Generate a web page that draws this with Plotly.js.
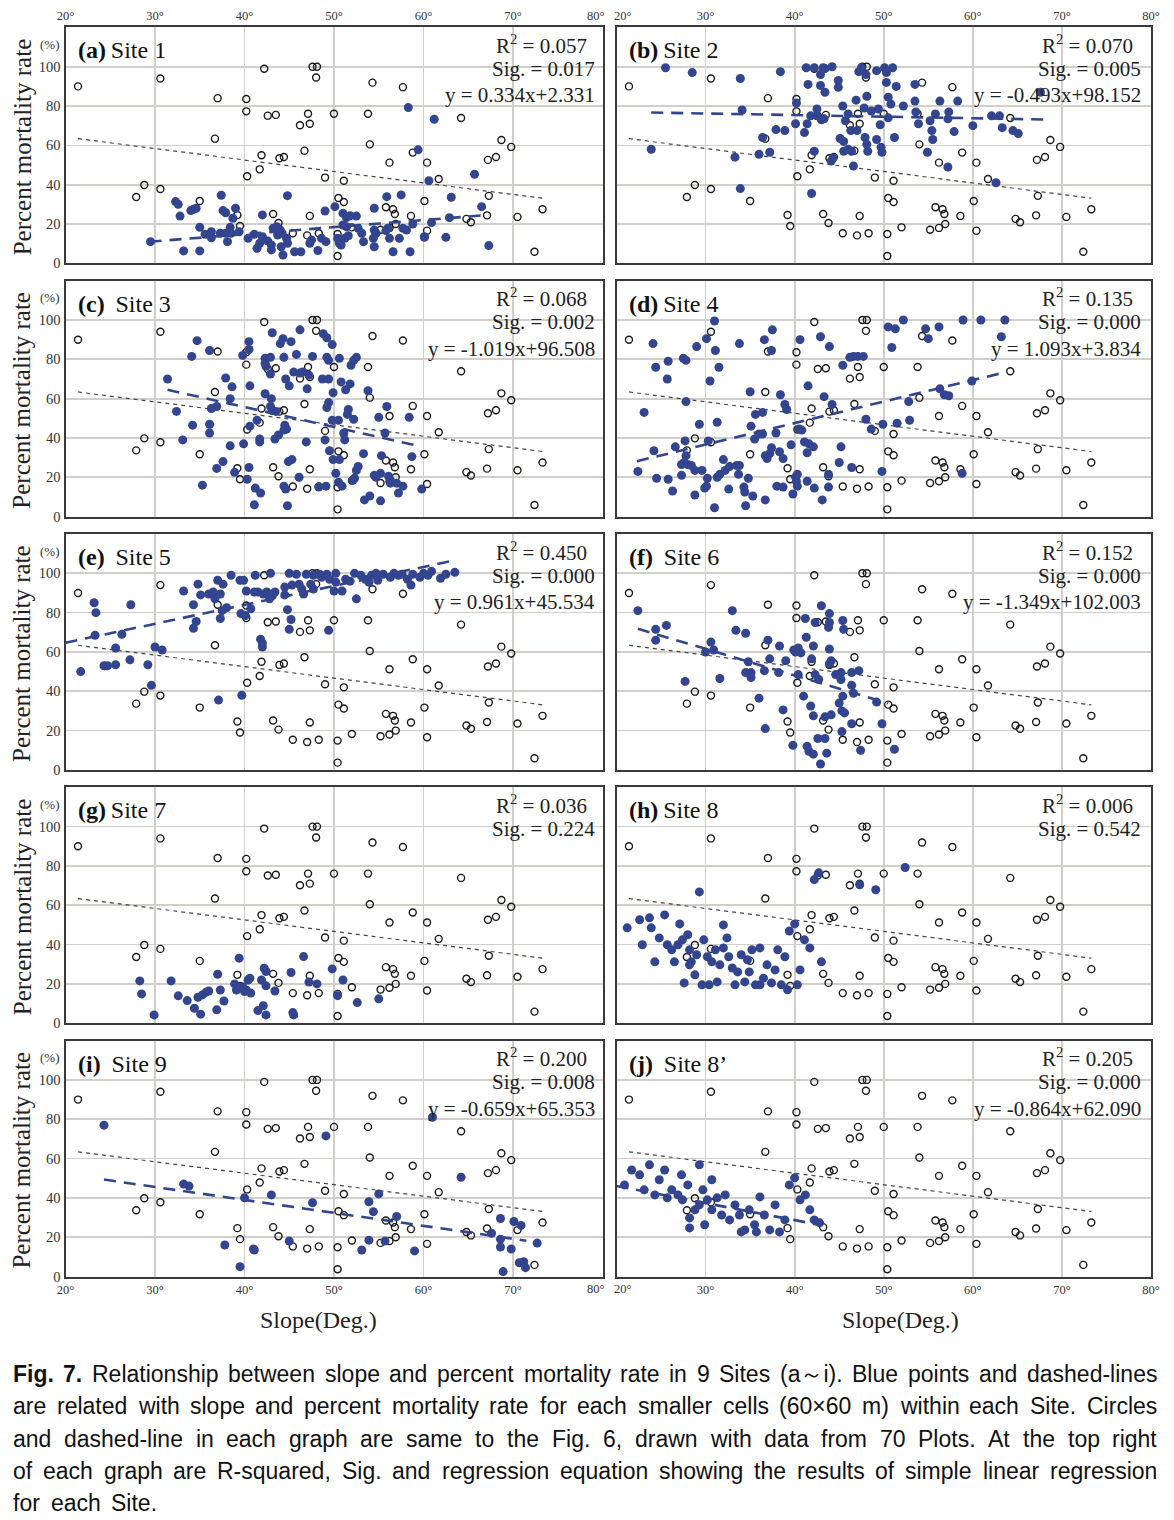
<!DOCTYPE html>
<html><head><meta charset="utf-8">
<script src="https://cdn.plot.ly/plotly-3.0.1.min.js"></script>
<style>html,body{margin:0;padding:0;background:#fff}#chart{width:1174px;height:1520px}</style>
</head><body><div id="chart"></div>
<script>
// ---------- DATA ----------
// 70 plots (same circles + dashed line in every panel, from Fig. 6)
const plotSlope=[21.4,30.6,37.0,40.2,40.2,36.7,40.3,28.8,30.6,27.9,35.0,39.2,39.5,42.2,47.6,48.1,48.0,54.3,57.7,42.6,43.5,47.1,50.0,53.8,46.2,47.3,54.0,58.8,56.2,60.4,41.9,43.9,44.4,46.7,41.7,49.0,51.1,50.5,51.1,43.2,47.3,43.8,45.4,47.0,48.3,50.4,50.4,52.0,55.8,56.6,56.8,58.6,56.9,56.2,55.2,60.1,60.4,64.2,68.7,69.8,67.2,68.1,61.7,67.3,64.8,65.3,67.1,70.5,73.3,72.4];
const plotMort=[90,94,84,83.6,77.3,63.4,44.3,39.8,37.8,33.7,31.7,24.6,19,99,100,100,94.5,91.9,89.6,75.1,75.5,76.1,76.1,76.1,70.2,71,60.5,56.3,51.2,51.2,55,53.4,54.1,57.3,47.8,43.6,42,33.2,31.2,25.1,24.1,20.5,15.3,14.2,15.3,14.9,3.7,18.3,28.5,27.5,25.1,24.1,20,18,17.1,31.7,16.6,73.9,62.7,59.2,52.6,54.1,42.9,34.3,22.6,20.9,24.4,23.6,27.5,5.9];
const plotLineSlope=[21.4,73.3];
const plotLineMort=[63.4,33.1];

const site1Slope=[29.5,32.3,32.6,32.8,34,34.3,34.6,33.2,35,37.4,37.6,37.9,38.7,39,35,35.6,36.3,36.3,37.3,37.9,38.1,38.4,38.5,39.4,40.4,44.8,42,41.1,41.7,41.4,42,42.6,43,43,43.2,43.6,44,44.2,43.7,44.1,44.3,44.7,44.8,45.6,46.3,47.3,47.5,48.2,49,48.6,49.1,50.1,50.4,50.6,50.8,51,51.4,51.8,52.5,51.2,51.6,51,51.4,52.7,53.1,53.3,54.5,54.5,54.7,54.4,54.5,55.9,55.8,56,56.2,56.6,57.5,57.7,58.1,57.3,58.5,58.8,58.3,59.4,60.1,60.6,61.2,65.7,63.1,66.5,60.9,62.9,60.1,62.5,67.3];
const site1Mort=[11,31.4,30,24,26.8,27.5,28,6.3,6.3,34.6,26.8,25.7,22.9,28,18.3,14.8,16.1,13,15.3,15.3,11,18.3,15.3,16.1,12.7,34.4,24.6,14.8,10.2,7.6,13.5,11.3,9.3,6.8,17.8,18.6,16.9,15.3,14.4,8.4,4.2,12.7,10.2,5.9,5.9,10.2,11.9,6.5,26.6,12.7,11,28.8,12.7,10.2,9.3,25.4,23.2,24.2,24,12.7,14,19.5,18.6,17.8,15.3,11,28,16.9,15.3,12.7,8.4,33.9,16.6,17.8,12.7,5.9,34.8,17.8,16.9,12.7,5.9,20,79.2,57.7,13.5,42,73.3,45.3,33.6,28.8,20.7,23.2,13.2,13.2,9];

const site2Slope=[25.5,28.5,33.9,38.4,23.9,33.3,33.9,34.1,36,36.4,37.2,37.9,38.9,40.2,40.1,41.1,41.3,41.5,42.2,41.9,42.2,42.5,42.5,41.8,41.4,43,43.3,42.9,43.2,43.4,44.2,42.9,43.4,44.1,44.3,44.9,44.9,45.4,45.5,45.1,45.5,45.7,46,46,46.4,46.6,46.3,46.9,47,47.2,47.5,48,47.8,47.9,48.1,48.1,48.2,48.6,49.2,49.4,49.2,49.6,49.7,49.8,50.1,50.3,50.3,50.5,50.5,50.8,51,51.2,51.4,52.2,53.5,53.5,53.6,53.9,54.9,55.2,55.4,55.5,55.8,56.3,57.2,57.3,57.2,57.9,58.3,60,62.1,63,62.6,63.3,64.5,65.1,67.6];
const site2Mort=[99.5,97,94,97.5,58,54,38,78,55.5,64,56.5,68,67.5,81.5,71,66.5,99.5,91,99.5,35.5,57,78.5,75,75,71,73,73.5,96,99.5,99,100,90.5,87,52,53.5,93,89.5,80,62,63.5,57,72.5,76,58,57,49.5,67.5,83,67.5,97.5,99.5,96,79,64,85,60.5,57,77.5,98,78.5,63,70.5,59,56.5,99.5,97,92,84.5,74,81,99.5,64,90,80,91,82.5,77,71,56.5,72.5,67.5,63,76,82.5,49,77,73.5,67,82.5,70,75,75,41,69,67.5,66,87];

const site3Slope=[34.7,34.1,36.1,31.4,32.4,34.2,33.1,36.1,36.1,36.3,36.9,37.9,38.6,38.4,38.4,37.6,36.9,35.3,38.9,39.9,39.8,40.5,40.5,40.6,40.6,41.4,41.7,41.7,40.5,40.3,41.2,41.8,41.1,42.3,42.4,42.3,42.9,42.9,43.1,42.3,43,42.9,43.1,43.5,43.4,43.8,44.4,44,44.3,45.2,44.6,45,44.5,44.7,44.4,44.9,45.3,46.1,44.4,44.6,44.8,46.2,45.8,45.5,46.5,46.2,47.2,47,46.9,47.6,48.3,49.1,48.7,49.4,48.8,49.2,49.8,49.2,49.4,49.9,49.4,49.2,49.8,50.5,49,49.5,49.9,50.6,50.2,50.5,50.9,51.1,51.2,50.6,50.8,51.8,51.3,51.9,52.2,52.5,51.6,51.5,52.2,52.7,52.5,52.3,52.1,53.3,53.8,53.4,54,55,55.3,54.5,54.7,55.2,55.2,55.9,55.7,56.1,56.3,56.3,57,57.2,57.7,58.4,58.7,59.8];
const site3Mort=[89.5,81.5,84.5,70,53.5,46.5,39,47,42.5,55,56,70.5,66,60,36,28,24.5,16,22.5,37,82,89,85,66.5,46,49,39.5,38,25,19,14.5,12,6,78,76.5,80.5,81,72.5,93.5,62.5,60,56,54,53.5,39.5,41.5,81,88,90.5,89,70,66.5,46.5,44.5,44,28,29,20,15.5,14,5.5,95,82.5,73.5,73.5,73,72,65,38,81.5,15,15.5,70,70,93,91,87.5,81,79.5,63,58,55.5,49,49,39,33.5,29,29,22,17.5,15.5,42.5,39,80.5,68.5,67.5,64.5,77,79.5,81,54.5,52,49.5,25.5,23.5,19.5,18.5,32,64,8.5,10.5,50.5,31,21,20,22,8,56,42.5,20.5,18.5,17,17,12,15.5,50.5,30.5,14];

const site4Slope=[22.4,24.1,24.4,24.2,23.1,24.5,25.8,25.7,25.8,26.3,26.6,27.3,27.3,27.5,27.8,27.8,27.7,27.8,27.6,28,28.4,28.8,28.8,29,29.3,29.6,30.1,30.3,30.5,31,31.1,31.5,31.3,30.2,30.1,29.9,31,31.3,31.6,32,32.2,32.7,32.6,33.5,33.8,33.8,33.7,34.8,34.3,34.4,34.5,35.3,35,35.1,35.5,35.6,36.4,36,36.4,36.7,36.6,37.5,37.4,36.7,36.9,37.2,37.4,37.9,38.4,38.9,39.1,38.3,38.7,38,38.7,39.6,40.1,40.3,40.2,40.3,39.8,40.5,40.8,40.6,41.1,41.6,42.1,41.4,41.5,41.4,42.2,43.1,43.3,42.9,43.9,44.2,43.8,43.8,45.2,45,45.4,46.2,46.4,46.6,47.1,47.7,48,48.6,49.9,49.8,50.5,51.3,50.9,52.2,51.5,52.9,52.8,54.7,55,56.2,56.3,56.8,57.3,58.9,58.8,59.9,60.9,63.6,63.2];
const site4Mort=[23,88,76,33.5,53,19.5,79,70,19,13,35.5,21,26.5,80.5,79.5,58.5,38.5,31,27.5,26.5,26,23.5,11,86.5,47,23.5,90.5,38.5,69,99.5,84.5,76,48,19.5,15.5,14.5,4.5,20,21.5,29,23.5,25.5,14,26,26,88,21.5,19.5,15,12.5,5.5,10.5,63.5,46,39.5,52,53,42,42,8.5,90,95,84.5,31,29.5,32,35,42.5,62,57,54.5,33,29.5,15.5,15,36.5,20,21.5,18,15.5,11.5,44.5,44,90,38,37,35.5,32.5,66.5,18,14.5,8.5,61,91.5,86.5,57,21.5,15,35.5,27.5,77,81,25,81.5,81.5,81.5,49.5,44.5,47,23,96.5,95.5,86,100,47.5,49,58.5,95.5,90.5,96.5,65,62,61.5,100,22,69,100,100,91.5];

const site5Slope=[21.7,23.2,23.4,23.3,24.3,24.7,25.6,25.6,26.3,27.2,27.3,29.2,29.6,30,30.8,33.2,34.3,34.6,34.3,34.8,35.1,36,36.5,36.7,37,37.3,37.6,37.1,38,37.5,37.3,38.5,39.5,39.9,39.6,40.2,40.1,40.7,39.7,41.2,41.1,41.5,41.8,42,42,42.1,42.5,42.9,42.8,43.1,43.4,44.5,44.5,44.8,45,45.2,45,45.3,45.8,46.1,46.4,46.6,46.9,47.4,47.7,47.7,48.4,48.6,49.2,49.5,50,49.4,50.2,50.2,50.9,51.3,51.8,52.3,52.5,53,53.5,53.9,54.2,54.7,54.9,55.5,56.3,56.7,57.2,57.6,58.2,58.6,58.8,59.6,60,60.5,60.9,61.9,62.5,63.5];
const site5Mort=[50,85,80,68.5,53,53,53.5,62,69,56,84,53.5,43,62.5,61,91,84,75.5,72,94.5,89,89.5,90.5,87,96.5,89.5,94.5,35.5,82.5,81,77,99,96.5,96.5,79.5,91,78.5,82,38,99,90.5,90.5,66.5,64.5,62.5,89.5,90.5,100,87,88.5,90.5,93,89,81.5,71.5,76.5,100,94,99.5,94.5,92,89.5,99.5,94.5,92,99,99.5,98,99.5,97,91,71,100,95.5,91,97,96,100,87,99,97,95.5,99,100,96.5,99.5,98,100,99,99.5,97,94,99.5,98,100,99,101,97.5,99.5,100.5];

const site6Slope=[22.4,24.4,24.4,25.6,27.7,30,30.6,30.9,31.6,33,33.4,34.5,34.8,34.5,35.1,35.1,36,36.7,36.6,37,37.2,38.2,38.3,39,38.7,39.8,39.9,40.1,40.4,40.7,40.4,41,41.2,41.3,41.9,42.1,41.8,42.1,41.4,41.6,42.1,42.6,42.9,42.3,43,42.3,42.7,43.4,43.6,43.9,43.9,43.8,43.9,44.1,43.9,43.4,44.1,44.6,45.2,45.4,45.5,45.2,45.4,45,45.3,45.6,45.3,46.4,46.4,46.6,46.4,47.2,47.4,49.2,49.8,51.2];
const site6Mort=[81,71.5,66,73.5,45,60,65,61,46.5,81,71,69.5,55,49.5,49.5,47,36.5,21,50.5,66,56.5,49.5,63,55.5,30.5,12.5,61,60,62,59.5,48.5,37.5,77,67.5,56.5,63,32.5,27.5,12,9.5,8,16,3,75,83.5,48.5,46,16,8.5,79.5,75,72.5,61.5,55.5,54,27,28,48.5,49.5,76,71.5,46,37.5,34,30,29,19.5,49.5,43,39,23.5,50.5,10,34.5,23.5,10.5];

const site7Slope=[28.3,28.5,29.9,31.8,32.6,33.6,34.4,35.1,34.8,35.3,35.7,36,37,37.3,37.7,36.9,39.4,38.9,39.1,39.6,40,40.4,39.8,40.2,40.7,40.6,41.9,42.4,42.2,42.4,41.5,42.1,42.4,43.4,45.2,45.4,45.5,46.6,47.2,48.1,49.8,50.4,51,52.6,55];
const site7Mort=[21.5,14.9,4.2,21.5,13.9,11.5,7.6,4.6,13.2,14.4,15.8,16.4,24.9,16.9,11.3,6.8,33.1,20,16.9,18.1,16.1,22,18.6,16.9,15.3,22.9,22,19,28,26.3,6.4,8.9,4.2,16.4,25.8,5.4,4.2,33.9,20.9,20,27.6,14,22,10.5,12.4];

const site8Slope=[21.2,22.6,23.7,23.9,24.8,25.4,25.7,26.2,26.9,27.4,28,28.2,28.4,29,29.3,29.8,30.2,30.7,31.1,31.6,32,32.4,32.6,33,33.6,34,34.7,34.9,35.6,36.1,36.5,36.9,37.4,38.1,38.5,38.9,39.4,40,40.6,41.1,41.7,42.2,42.7,43,47.3,49.1,52.4,22.9,24.3,26.5,27.6,28.8,29.6,30.4,31.3,33.3,34.4,36.1,37.8,39.2,40.3,28.2,32,35.2,27.1];
const site8Mort=[48.5,52.6,53.6,48.5,43.4,55.1,39.9,37.3,39.9,42.4,45,37.3,31.2,34.8,66.8,42.4,33.8,31.2,37.3,29.7,50,43.4,33.8,28.1,26.1,34.8,32.3,26.1,19.5,38.3,22.9,29.7,20.5,37.3,19.5,33.8,46.9,50.5,27.1,42.4,38.3,73,76.5,31.2,70.4,67.9,79.2,39.9,31.2,31.2,20.5,24.6,19.5,19.5,21,19.5,21,19.5,27.1,17,19.5,29.7,38.3,37.3,50.5];

const site9Slope=[24.3,33.2,33.8,37.8,39.5,40,41,41.1,43,45,47.6,49.1,53.1,53.9,53.9,54.4,55,55.7,57,59,61,64.2,67.6,68.6,68.6,68.6,68.9,69.8,70.1,70.9,70.7,71.2,71.4,72.7];
const site9Mort=[77,47,46,16,5,40,14,13.5,41.5,18,37.5,71.5,13.5,18.5,38,33,42,18,30.5,13,81,50.5,22,29.5,19,15,2.5,14,28,26,7,7.5,4.5,17];

const site8bSlope=[20.9,21.7,22.6,23.1,23.7,24.3,24.8,25.4,25.7,26.2,26.9,27.4,28,28.2,28.8,29.3,29.7,30.2,30.7,31.3,31.8,32.2,32.7,33.3,33.8,34.4,34.9,35.5,36.1,36.6,37.2,37.8,38.3,38.9,39.4,40,40.6,41.2,41.7,42.2,42.8,29.3,30.7,27.3,28.2,29.9,34,35.7];
const site8bMort=[46.6,54.2,51.7,44.1,56.8,41.5,49.2,54.2,40,44.1,41.5,39,46.6,29.8,33.9,36.4,44.1,39,33.9,40,31.3,41.5,28.8,36.4,31.3,23.7,33.9,26.3,40.5,31.3,23.7,36.4,22.7,28.8,46.6,50.2,39,41.5,33.9,28.8,27.3,56.8,49.2,51.7,24.7,26.3,22.7,22.7];

// regression line ends as drawn (null = no line)
const fitSlope=[[29.4,67],[23.9,68.6],[31.4,59.5],[22.3,63.8],[20,63.5],[22.4,50.5],null,null,[24.3,71.5],[20,42.5]];
const fitMort=[[11,24.5],[76.7,73.1],[64.5,35.9],[28.2,73.6],[64.7,106.6],[71.8,33.9],null,null,[49.3,18.2],[46,26.5]];

const panelLetters=['a','b','c','d','e','f','g','h','i','j'];
const siteNames=['Site 1','Site 2','Site 3','Site 4','Site 5','Site 6','Site 7','Site 8','Site 9','Site 8\u2019'];
const r2Values=['0.057','0.070','0.068','0.135','0.450','0.152','0.036','0.006','0.200','0.205'];
const sigValues=['0.017','0.005','0.002','0.000','0.000','0.000','0.224','0.542','0.008','0.000'];
const equations=['y = 0.334x+2.331','y = -0.493x+98.152','y = -1.019x+96.508','y = 1.093x+3.834','y = 0.961x+45.534','y = -1.349x+102.003',null,null,'y = -0.659x+65.353','y = -0.864x+62.090'];

// left column: 80° is written beside the border; right column: 20° likewise
const xTickValsLeft=[20,30,40,50,60,70];
const xTickTextLeft=['20°','30°','40°','50°','60°','70°'];
const xTickValsRight=[30,40,50,60,70,80];
const xTickTextRight=['30°','40°','50°','60°','70°','80°'];
const edgeTickText=['80°','20°'];
const yTickVals=[0,20,40,60,80,100];
const yTickText=['0','20','40','60','80','100'];

const captionLines=[
 'Fig. 7. Relationship between slope and percent mortality rate in 9 Sites (a\uFF5Ei). Blue points and dashed-lines',
 'are related with slope and percent mortality rate for each smaller cells (60\u00D760 m) within each Site. Circles',
 'and dashed-line in each graph are same to the Fig. 6, drawn with data from 70 Plots. At the top right',
 'of each graph are R-squared, Sig. and regression equation showing the results of simple linear regression',
 'for each Site.'
];

const siteSlopes=[site1Slope,site2Slope,site3Slope,site4Slope,site5Slope,site6Slope,site7Slope,site8Slope,site9Slope,site8bSlope];
const siteMorts=[site1Mort,site2Mort,site3Mort,site4Mort,site5Mort,site6Mort,site7Mort,site8Mort,site9Mort,site8bMort];

// ---------- LAYOUT ----------
const W=1174,H=1520;
const SERIF='"Liberation Serif", "Times New Roman", serif';
const SANS='"Liberation Sans", Arial, sans-serif';
const BLUE='#33458e';
const colX=[[65.5,602.5],[616.5,1151]];
const rowTops=[27.4,280.7,534.0,787.3,1040.6];
const rowH=235.9;
const tightGap=[true,true,false,true,false,false,true,true,false,false];

const cv=document.createElement('canvas').getContext('2d');
function tw(t,font){cv.font=font;return cv.measureText(t).width;}
const px=x=>x/W, py=y=>1-y/H;

const traces=[];
const layout={width:W,height:H,margin:{l:0,r:0,t:0,b:0},paper_bgcolor:'#fff',plot_bgcolor:'#fff',showlegend:false,annotations:[]};
const TICKFONT={family:SERIF,size:12.5,color:'#333'};

for(let p=0;p<10;p++){
  const row=Math.floor(p/2),col=p%2,n=p+1;
  const xa='x'+(n===1?'':n), ya='y'+(n===1?'':n);
  const top=rowTops[row];
  const axCommon={showgrid:true,gridcolor:'#d2cfca',gridwidth:1.7,zeroline:false,showline:true,mirror:true,linecolor:'#3a3a3a',linewidth:2,ticks:'',fixedrange:true};
  const showX=(row===0||row===4);
  layout['xaxis'+(n===1?'':n)]=Object.assign({},axCommon,{domain:[px(colX[col][0]),px(colX[col][1])],range:[20,80],anchor:ya,tickmode:'array',tickvals:col===0?xTickValsLeft:xTickValsRight,ticktext:col===0?xTickTextLeft:xTickTextRight,showticklabels:showX,side:row===0?'top':'bottom',tickfont:TICKFONT});
  const yax={domain:[py(top+rowH),py(top)],range:[0,120],anchor:xa,tickmode:'array',tickvals:yTickVals,showticklabels:col===0,tickfont:{family:SERIF,size:14.5,color:'#333'}};
  if(col===0) yax.ticktext=yTickText;
  layout['yaxis'+(n===1?'':n)]=Object.assign({},axCommon,yax);

  traces.push({x:plotSlope,y:plotMort,xaxis:xa,yaxis:ya,type:'scatter',mode:'markers',marker:{symbol:'circle-open',size:7,color:'#1a1a1a',line:{width:1.4,color:'#1a1a1a'}},hoverinfo:'skip'});
  traces.push({x:plotLineSlope,y:plotLineMort,xaxis:xa,yaxis:ya,type:'scatter',mode:'lines',line:{color:'#444',width:1.2,dash:'4px,4px'},hoverinfo:'skip'});
  traces.push({x:siteSlopes[p],y:siteMorts[p],xaxis:xa,yaxis:ya,type:'scatter',mode:'markers',marker:{symbol:'circle',size:9,color:BLUE,line:{width:0}},hoverinfo:'skip'});
  if(fitSlope[p]) traces.push({x:fitSlope[p],y:fitMort[p],xaxis:xa,yaxis:ya,type:'scatter',mode:'lines',line:{color:BLUE,width:2.6,dash:'12px,8px'},hoverinfo:'skip'});

  const L=colX[col][0],R=colX[col][1];
  const gap=tightGap[p]?'\u2009':' \u2009';
  layout.annotations.push({xref:'paper',yref:'paper',x:px(L+10),y:py(top+23),xanchor:'left',yanchor:'middle',showarrow:false,text:'<b>('+panelLetters[p]+')</b>'+gap+siteNames[p],font:{family:SERIF,size:24,color:'#111'}});
  const rightX=R-(col===0?6:8);
  const sigT='Sig. = '+sigValues[p];
  const sigW=tw(sigT,'21px '+SERIF);
  layout.annotations.push({xref:'paper',yref:'paper',x:px(rightX-sigW),y:py(top+17),xanchor:'left',yanchor:'middle',showarrow:false,text:'R<sup>2</sup> = '+r2Values[p],font:{family:SERIF,size:21,color:'#222'}});
  layout.annotations.push({xref:'paper',yref:'paper',x:px(rightX),y:py(top+41.5),xanchor:'right',yanchor:'middle',showarrow:false,text:sigT,font:{family:SERIF,size:21,color:'#222'}});
  if(equations[p]) layout.annotations.push({xref:'paper',yref:'paper',x:px(rightX),y:py(top+68),xanchor:'right',yanchor:'middle',showarrow:false,text:equations[p],font:{family:SERIF,size:21,color:'#222'}});
  if(col===0){
    layout.annotations.push({xref:'paper',yref:'paper',x:px(22),y:py(top+rowH/2+2),xanchor:'center',yanchor:'middle',textangle:-90,showarrow:false,text:'Percent mortality rate',font:{family:SERIF,size:25,color:'#222'}});
    layout.annotations.push({xref:'paper',yref:'paper',x:px(50),y:py(top+17),xanchor:'center',yanchor:'middle',showarrow:false,text:'(%)',font:{family:SERIF,size:13,color:'#333'}});
  }
}
// edge tick labels between the two columns (top and bottom rows)
[16,1289].forEach(yy=>{
  layout.annotations.push({xref:'paper',yref:'paper',x:px(606),y:py(yy),xanchor:'right',yanchor:'middle',showarrow:false,borderpad:0,text:edgeTickText[0],font:TICKFONT});
  layout.annotations.push({xref:'paper',yref:'paper',x:px(613),y:py(yy),xanchor:'left',yanchor:'middle',showarrow:false,borderpad:0,text:edgeTickText[1],font:TICKFONT});
});
[318,900].forEach(cx=>layout.annotations.push({xref:'paper',yref:'paper',x:px(cx),y:py(1320),xanchor:'center',yanchor:'middle',showarrow:false,text:'Slope(Deg.)',font:{family:SERIF,size:24,color:'#222'}}));

// caption, justified word by word; largest size (<=23px) leaving >=5px word gaps
const capL=12, capR=1156, capY=[1374,1406,1439,1471,1503];
const capWords=captionLines.map((line,li)=>line.split(' ').map((w,i)=>({w:w,b:li===0&&i<2})));
const fnt=(s,b)=>(b?'bold ':'')+s+'px '+SANS;
let CAP=23;
for(;CAP>17;CAP-=0.25){
  let ok=true;
  capWords.slice(0,-1).forEach(ws=>{const t=ws.reduce((a,o)=>a+tw(o.w,fnt(CAP,o.b)),0);if((capR-capL-t)/(ws.length-1)<5)ok=false;});
  if(ok)break;
}
capWords.forEach((ws,li)=>{
  const widths=ws.map(o=>tw(o.w,fnt(CAP,o.b)));
  const total=widths.reduce((a,b)=>a+b,0);
  const sp=(li<capWords.length-1)?(capR-capL-total)/(ws.length-1):tw(' ',fnt(CAP,false))*1.7;
  let x=capL;
  ws.forEach((o,i)=>{
    layout.annotations.push({xref:'paper',yref:'paper',x:px(x),y:py(capY[li]),xanchor:'left',yanchor:'middle',showarrow:false,borderpad:0,text:o.b?'<b>'+o.w+'</b>':o.w,font:{family:SANS,size:CAP,color:'#111'}});
    x+=widths[i]+sp;
  });
});

Plotly.newPlot('chart',traces,layout,{displayModeBar:false,staticPlot:true});
</script></body></html>
